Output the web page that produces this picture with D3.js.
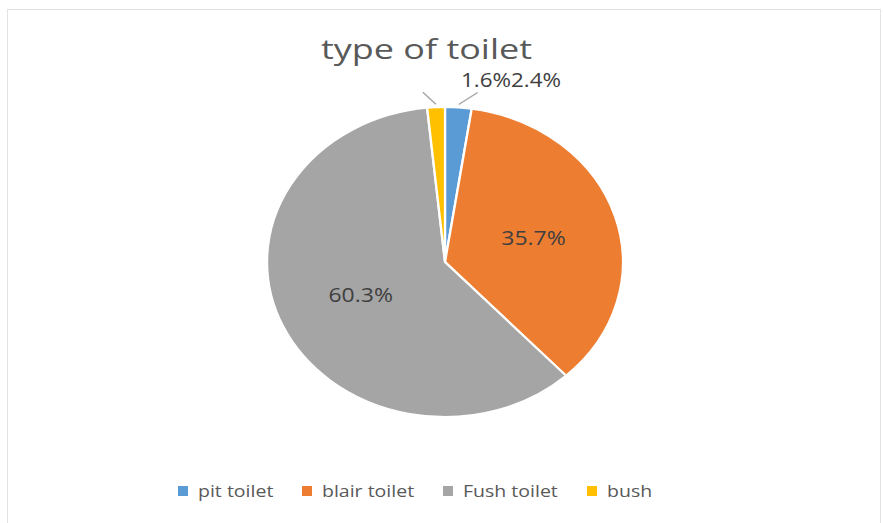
<!DOCTYPE html>
<html>
<head>
<meta charset="utf-8">
<script src="https://cdn.jsdelivr.net/npm/d3@7/dist/d3.min.js"></script>
<style>
  html, body { margin: 0; padding: 0; background: #fff; }
  svg { display: block; }
  text { font-family: "Open Sans", "Liberation Sans", sans-serif; }
</style>
</head>
<body>
<svg id="chart" width="883" height="523"></svg>
<script>
// Toilet types and their shares (%)
const categories = ["pit toilet", "blair toilet", "Fush toilet", "bush"];
const values = [2.4, 35.7, 60.3, 1.6];
const colors = ["#5b9bd5", "#ed7d31", "#a5a5a5", "#ffc000"];
const title = "type of toilet";

const W = 883, H = 523;
const sx = 1.148;               // the chart is drawn slightly wide
const cx = 445, cy = 262, R = 155;

const svg = d3.select("#chart");

// outer chart frame
svg.append("rect")
  .attr("x", 7.5).attr("y", 9.5)
  .attr("width", 873).attr("height", 520)
  .attr("fill", "#fff").attr("stroke", "#e3e3e3").attr("stroke-width", 1);

const g = svg.append("g").attr("transform", `scale(${sx},1)`);
const X = x => x / sx;          // screen x -> group x

// title
g.append("text")
  .attr("x", X(426.5)).attr("y", 59)
  .attr("text-anchor", "middle")
  .attr("font-size", 27)
  .attr("textLength", 211 / sx)
  .attr("lengthAdjust", "spacingAndGlyphs")
  .attr("fill", "#595959")
  .text(title);

const data = categories.map((c, i) => ({ name: c, value: values[i], color: colors[i] }));
const pie = d3.pie().sort(null).value(d => d.value);
const arcs = pie(data);
const arc = d3.arc().innerRadius(0).outerRadius(R);
const labelArc = d3.arc().innerRadius(R * 0.52).outerRadius(R * 0.52);

const pieG = g.append("g").attr("transform", `translate(${X(cx)},${cy})`);

pieG.selectAll("path.slice")
  .data(arcs)
  .join("path")
  .attr("class", "slice")
  .attr("d", arc)
  .attr("fill", d => d.data.color)
  .attr("stroke", "#fff")
  .attr("stroke-width", 2)
  .attr("stroke-linejoin", "round");

const fmt = v => v.toFixed(1) + "%";

// labels inside the two big slices
pieG.selectAll("text.inside")
  .data(arcs.filter(d => d.data.value > 10))
  .join("text")
  .attr("class", "inside")
  .attr("transform", d => `translate(${labelArc.centroid(d)})`)
  .attr("text-anchor", "middle")
  .attr("dy", "0.35em")
  .attr("font-size", 20)
  .attr("fill", "#404040")
  .text(d => fmt(d.data.value));

// small slices: leader lines and outside labels
const small = arcs.filter(d => d.data.value < 10);
const outerPt = (d, r) => {
  const a = (d.startAngle + d.endAngle) / 2;
  return [Math.sin(a) * r, -Math.cos(a) * r];
};
pieG.selectAll("line.leader")
  .data(small)
  .join("line")
  .attr("class", "leader")
  .attr("x1", d => outerPt(d, R + 3)[0])
  .attr("y1", d => outerPt(d, R + 3)[1])
  .attr("x2", d => outerPt(d, R + 3)[0] + (d.data.name === "bush" ? -13 : 19) / sx)
  .attr("y2", d => outerPt(d, R + 3)[1] - 12)
  .attr("stroke", "#a6a6a6")
  .attr("stroke-width", 1.3);

// "1.6%" and "2.4%" sit side by side above the pie
const smallText = g.append("text")
  .attr("x", X(461)).attr("y", 87)
  .attr("font-size", 19.5)
  .attr("fill", "#404040");
smallText.append("tspan").text(fmt(values[3]));
smallText.append("tspan").text(fmt(values[0]));

// legend
const legendX = [178, 302, 443, 587];
const lg = g.selectAll("g.legend")
  .data(data)
  .join("g")
  .attr("class", "legend")
  .attr("transform", (d, i) => `translate(${X(legendX[i])},491)`);
lg.append("rect")
  .attr("x", 0).attr("y", -5)
  .attr("width", 10 / sx).attr("height", 10)
  .attr("fill", d => d.color);
lg.append("text")
  .attr("x", 20 / sx).attr("y", 0)
  .attr("dy", "0.35em")
  .attr("font-size", 17)
  .attr("fill", "#595959")
  .text(d => d.name);
</script>
</body>
</html>
